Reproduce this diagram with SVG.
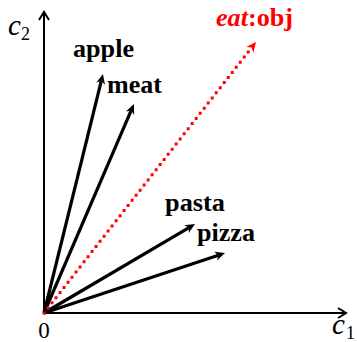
<svg xmlns="http://www.w3.org/2000/svg" width="357" height="342" viewBox="0 0 357 342">
<style>
text{font-family:'Liberation Serif','Times New Roman',Times,serif}
.lbl{font-weight:bold;font-size:26px;fill:#000}
.red{fill:#ff0000}
.ax{fill:#000}
.vec{stroke:#000;stroke-width:3.2;fill:none}
.axis{stroke:#000;stroke-width:2;fill:none}
</style>
<defs>
<marker id="ah" markerUnits="userSpaceOnUse" markerWidth="12" markerHeight="12" viewBox="0 -6 12 12" refX="3" refY="0" orient="auto" overflow="visible">
<path d="M10,0 L0,-4.5 L3,0 L0,4.5 Z" fill="#000"/>
</marker>
<marker id="ahr" markerUnits="userSpaceOnUse" markerWidth="12" markerHeight="12" viewBox="0 -6 12 12" refX="3" refY="0" orient="auto" overflow="visible">
<path d="M10,0 L0,-4.5 L3,0 L0,4.5 Z" fill="#ff0000"/>
</marker>
</defs>
<g id="axes">
<line class="axis" x1="44" y1="313" x2="44" y2="13"/>
<polyline class="axis" stroke-width="1.6" points="39,20 44,12 49,20"/>
<line class="axis" x1="44" y1="313" x2="345" y2="313"/>
<polyline class="axis" stroke-width="1.6" points="338,308 346,313 338,318"/>
<text class="ax" x="44" y="338" font-size="23" text-anchor="middle">0</text>
<text class="ax" x="8" y="35" font-size="29" font-style="italic">c</text>
<text class="ax" x="21" y="40" font-size="18">2</text>
<text class="ax" x="332" y="334" font-size="29" font-style="italic">c</text>
<text class="ax" x="346" y="339" font-size="18">1</text>
</g>
<g id="connectors">
<line class="vec" x1="44" y1="313" x2="101.3" y2="80.8" marker-end="url(#ah)"/>
<line class="vec" x1="44" y1="313" x2="131.2" y2="110.4" marker-end="url(#ah)"/>
<line class="vec" x1="44" y1="313" x2="189.0" y2="227.6" marker-end="url(#ah)"/>
<line class="vec" x1="44" y1="313" x2="218.4" y2="255.2" marker-end="url(#ah)"/>
<line x1="44" y1="313" x2="251.7" y2="47.5" stroke="#ff0000" stroke-width="3" stroke-dasharray="0 6.5" stroke-linecap="square" marker-end="url(#ahr)"/>
</g>
<g id="apple"><text class="lbl" x="73" y="57" textLength="61" lengthAdjust="spacingAndGlyphs">apple</text></g>
<g id="meat"><text class="lbl" x="107" y="93" textLength="55" lengthAdjust="spacingAndGlyphs">meat</text></g>
<g id="pasta"><text class="lbl" x="165" y="211" textLength="60" lengthAdjust="spacingAndGlyphs">pasta</text></g>
<g id="pizza"><text class="lbl" x="197" y="241" textLength="58" lengthAdjust="spacingAndGlyphs">pizza</text></g>
<g id="eatobj"><text class="lbl red" x="216" y="26" textLength="77" lengthAdjust="spacingAndGlyphs"><tspan font-style="italic">eat</tspan>:obj</text></g>
</svg>
